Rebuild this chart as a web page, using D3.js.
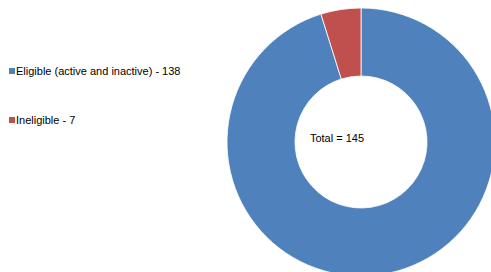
<!DOCTYPE html>
<html>
<head>
<meta charset="utf-8">
<script src="https://cdn.jsdelivr.net/npm/d3@7"></script>
<style>
  body { margin: 0; background: #fff; }
  text { font-family: "Liberation Sans", Arial, sans-serif; fill: #000; }
</style>
</head>
<body>
<svg id="viz" width="491" height="272"></svg>
<script>
const categories = ["Eligible (active and inactive)", "Ineligible"]
const counts = [138, 7]
const colors = ['#4f81bd', '#c0504d']

let svg = d3.select("#viz");
let cx = 361, cy = 142;
let outerR = 134, innerR = 66;

let data = categories.map((c, i) => ({ name: c, value: counts[i] }));
let total = d3.sum(counts);

let pie = d3.pie().sort(null).value(d => d.value);
let arc = d3.arc().innerRadius(innerR).outerRadius(outerR);

let g = svg.append("g").attr("transform", `translate(${cx},${cy})`);

g.selectAll("path")
    .data(pie(data))
    .join("path")
    .attr("d", arc)
    .attr("fill", (d, i) => colors[i])
    .attr("stroke", "#fff")
    .attr("stroke-width", 0.8);

g.append("text")
    .attr("x", -24)
    .attr("y", 0)
    .attr("text-anchor", "middle")
    .style("font-size", "11px")
    .text("Total = " + total);

// legend
let legend = svg.append("g").selectAll("g")
    .data(data)
    .join("g")
    .attr("transform", (d, i) => `translate(9, ${68 + i * 49})`);

legend.append("rect")
    .attr("width", 6)
    .attr("height", 6)
    .attr("fill", (d, i) => colors[i]);

legend.append("text")
    .attr("x", 7)
    .attr("y", 6.5)
    .style("font-size", "11px")
    .text(d => d.name + " - " + d.value);
</script>
</body>
</html>
